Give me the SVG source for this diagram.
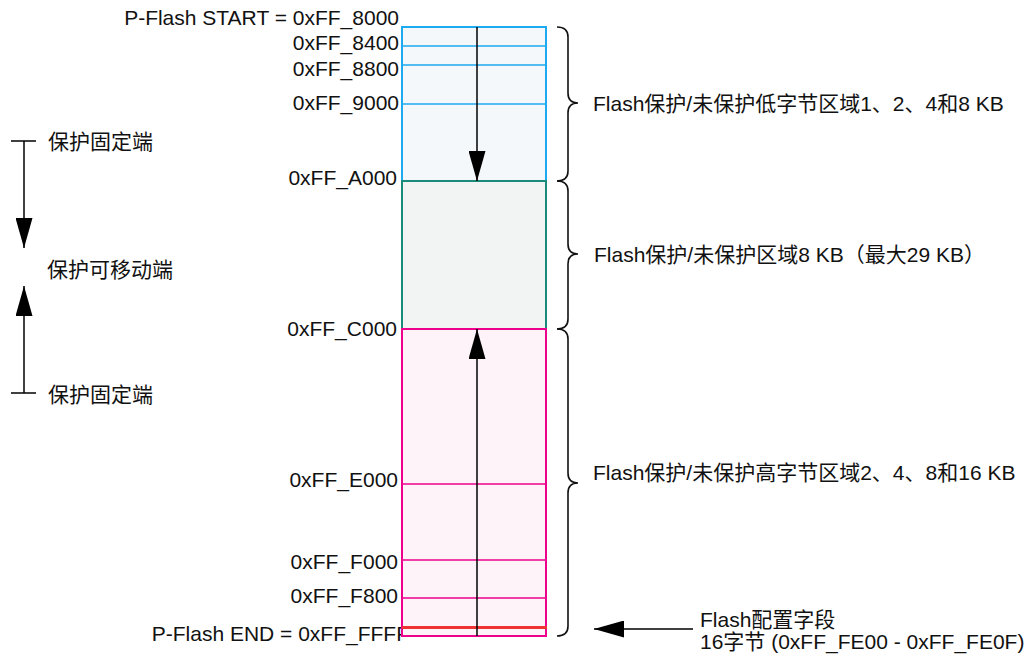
<svg xmlns="http://www.w3.org/2000/svg" width="1026" height="656" viewBox="0 0 1026 656">
<defs>
<style>
text{font-family:"Liberation Sans","Noto Sans CJK SC",sans-serif;font-size:21px;fill:#111;}
.r{text-anchor:end;}
.blue{fill:#f4f8fb;stroke:#1eaaf1;stroke-width:2;}
.bl{stroke:#1eaaf1;stroke-width:1.6;}
.green{fill:#f2f4f3;stroke:#1a8a7a;stroke-width:2;}
.pink{fill:#fdf3f9;stroke:#ec008c;stroke-width:2;}
.pl{stroke:#ec008c;stroke-width:1.6;}
.ln{stroke:#000;stroke-width:1.5;fill:none;}
.brace{stroke:#111;stroke-width:1.6;fill:none;}
</style>
<marker id="ahl" viewBox="0 0 10 10" refX="10" refY="5" markerWidth="30" markerHeight="17" markerUnits="userSpaceOnUse" orient="auto" preserveAspectRatio="none">
<path d="M0,0 L10,5 L0,10 Z" fill="#000"/>
</marker>
</defs>

<g id="label-end"><text x="409" y="641" class="r">P-Flash END = 0xFF_FFFF</text></g>

<g id="region-low">
<rect x="402" y="27" width="144" height="154" class="blue"/>
<line x1="402" y1="46" x2="546" y2="46" class="bl"/>
<line x1="402" y1="65" x2="546" y2="65" class="bl"/>
<line x1="402" y1="104" x2="546" y2="104" class="bl"/>
</g>
<g id="region-mid">
<rect x="402" y="181" width="144" height="148" class="green"/>
</g>
<g id="region-high">
<rect x="402" y="329" width="144" height="307" class="pink"/>
<line x1="402" y1="484" x2="546" y2="484" class="pl"/>
<line x1="402" y1="560" x2="546" y2="560" class="pl"/>
<line x1="402" y1="598" x2="546" y2="598" class="pl"/>
<line x1="402" y1="627.5" x2="547" y2="627.5" stroke="#ee3333" stroke-width="3"/>
</g>

<g id="addr-labels">
<text x="399" y="25" class="r">P-Flash START = 0xFF_8000</text>
<text x="399" y="50" class="r">0xFF_8400</text>
<text x="399" y="76" class="r">0xFF_8800</text>
<text x="399" y="110" class="r">0xFF_9000</text>
<text x="397" y="185" class="r">0xFF_A000</text>
<text x="397" y="336" class="r">0xFF_C000</text>
<text x="398" y="487" class="r">0xFF_E000</text>
<text x="398" y="569" class="r">0xFF_F000</text>
<text x="398" y="603" class="r">0xFF_F800</text>
</g>

<g id="connectors">
<line x1="477" y1="27" x2="477" y2="181" class="ln" marker-end="url(#ahl)"/>
<line x1="477" y1="636" x2="477" y2="329" class="ln" marker-end="url(#ahl)"/>
<line x1="24" y1="141" x2="24" y2="248" class="ln" marker-end="url(#ahl)"/>
<line x1="11" y1="141" x2="36" y2="141" class="ln"/>
<line x1="24" y1="393" x2="24" y2="286" class="ln" marker-end="url(#ahl)"/>
<line x1="11" y1="393" x2="36" y2="393" class="ln"/>
<line x1="693" y1="629" x2="594" y2="629" class="ln" marker-end="url(#ahl)"/>
</g>

<g id="braces">
<path class="brace" d="M557,27 Q568,27 568,37 L568,93 Q568,103 578,103 Q568,103 568,113 L568,171 Q568,181 557,181"/>
<path class="brace" d="M557,181 Q568,181 568,191 L568,244 Q568,254 578,254 Q568,254 568,264 L568,319 Q568,329 557,329"/>
<path class="brace" d="M557,329 Q568,329 568,339 L568,473 Q568,483 578,483 Q568,483 568,493 L568,626 Q568,636 557,636"/>
</g>

<g id="left-labels">
<text x="48" y="149">保护固定端</text>
<text x="47" y="277">保护可移动端</text>
<text x="48" y="402">保护固定端</text>
</g>

<g id="right-labels">
<text x="593" y="111">Flash保护/未保护低字节区域1、2、4和8 KB</text>
<text x="594" y="262">Flash保护/未保护区域8 KB（最大29 KB）</text>
<text x="593" y="480">Flash保护/未保护高字节区域2、4、8和16 KB</text>
<text x="700" y="627">Flash配置字段</text>
<text x="700" y="649">16字节 (0xFF_FE00 - 0xFF_FE0F)</text>
</g>
</svg>
